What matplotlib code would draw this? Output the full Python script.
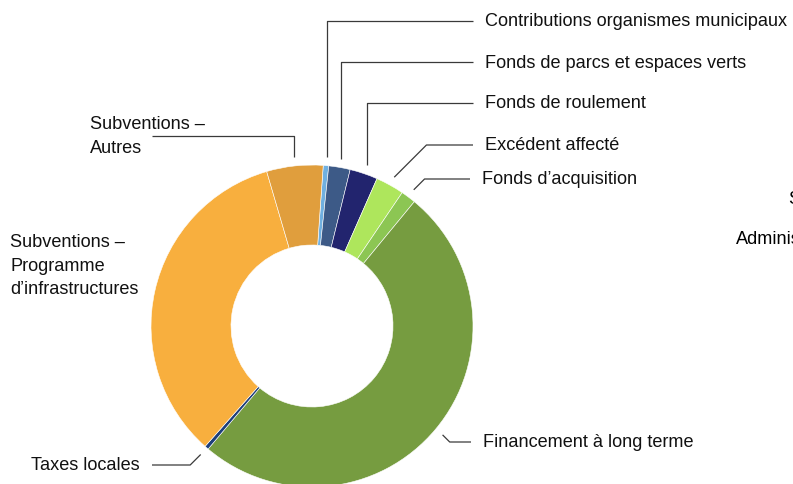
import math
import matplotlib.pyplot as plt

# parts du financement (%), ordre horaire depuis le haut
labels = ["Contributions organismes municipaux",
          "Fonds de parcs et espaces verts",
          "Fonds de roulement",
          "Excédent affecté",
          "Fonds d\u2019acquisition",
          "Financement à long terme",
          "Taxes locales",
          "Subventions \u2013\nProgramme\nd\u2019infrastructures",
          "Subventions \u2013\nAutres"]
values = [0.55, 2.15, 2.8, 2.85, 1.5, 50.2, 0.4, 33.9, 5.65]
colors = ["#70b0e0", "#3d5a87", "#22246e", "#aee65c", "#8cc653",
          "#769c40", "#1e3f7a", "#f8af3e", "#e09e3d"]

W, H = 793, 485
CX, CY = 312, 327          # centre du donut (pixels, y vers le bas)
R, RIN = 161, 81
START = 4                  # degrés, sens horaire depuis le haut

# position du texte (pixels), type de trait: v=vertical, d=diagonal, None=aucun
label_pos = [(485, 22, 'v'), (485, 63, 'v'), (485, 104, 'v'), (485, 146, 'd'),
             (482, 180, 'd'), (483, 443, 'd'), (140, 466, 'd'),
             (10, 266.5, None), (90, 136.5, 'v')]


def py(y):
    return H - y


def main():
    plt.rcParams['font.family'] = ['Liberation Sans', 'DejaVu Sans']
    fig = plt.figure(figsize=(W / 100, H / 100), dpi=100)
    ax = fig.add_axes([0, 0, 1, 1])

    ax.pie(values, colors=colors, startangle=90 - START, counterclock=False,
           radius=R, center=(CX, py(CY)),
           wedgeprops=dict(width=R - RIN, edgecolor='white', linewidth=0.4))

    total = sum(values)
    acc = START
    for lab, v, (tx, ty, kind) in zip(labels, values, label_pos):
        mid = acc + v / total * 360 / 2
        acc += v / total * 360
        right = tx > CX
        ha = 'left' if right else ('left' if kind != 'd' else 'right')
        ax.text(tx, py(ty), lab, fontsize=13.1, ha=ha, va='center',
                linespacing=1.5, color='#111111')
        if kind is None:
            continue
        t = math.radians(mid)
        r0 = R + 9
        x0 = CX + r0 * math.sin(t)
        y0 = CY - r0 * math.cos(t)
        xend = tx - 12 if right else 152
        if kind == 'v':
            pts = [(x0, y0), (x0, ty), (xend, ty)]
        else:
            d = abs(ty - y0)
            xe = x0 + d if right else x0 - d
            pts = [(x0, y0), (xe, ty), (xend, ty)]
        ax.plot([p[0] for p in pts], [py(p[1]) for p in pts],
                color='#3a3a3a', lw=0.9, solid_capstyle='butt')

    # graphique voisin coupé à droite
    ax.text(788, py(200), "Subventions", fontsize=13.1, ha='left', va='center')
    ax.text(736, py(240), "Administration", fontsize=13.1, ha='left', va='center')

    ax.set_xlim(0, W)
    ax.set_ylim(0, H)
    ax.set_aspect('equal')
    ax.axis('off')
    fig.savefig("out.png", dpi=100)


if __name__ == '__main__':
    main()
